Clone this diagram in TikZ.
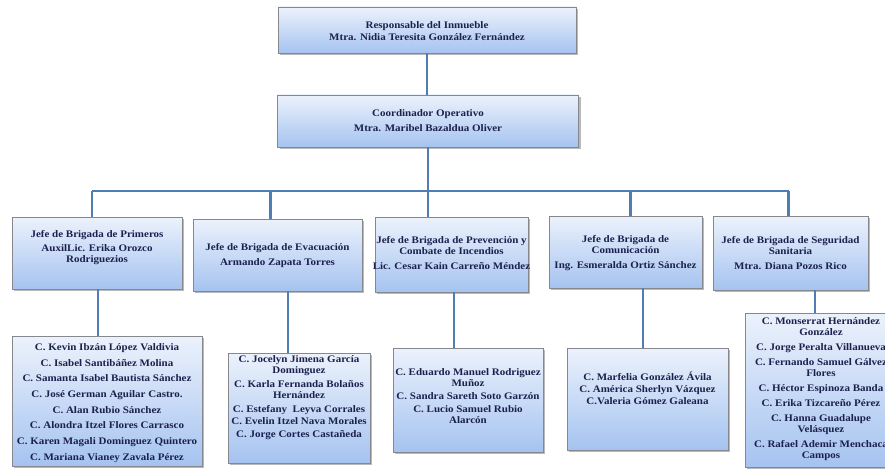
\documentclass[tikz,border=0pt]{standalone}
\usepackage{fontspec}
\setmainfont{Liberation Serif}[FakeStretch=1.1]
\usetikzlibrary{shadows}
\definecolor{txt}{RGB}{28,32,78}
\definecolor{lin}{RGB}{80,125,180}
\definecolor{boxtop}{RGB}{236,242,252}
\definecolor{boxbot}{RGB}{165,195,240}
\definecolor{edge}{RGB}{135,135,140}
\begin{document}
\begin{tikzpicture}[x=1pt,y=-1pt,
  box/.style={draw=edge, line width=0.8pt, top color=boxtop, bottom color=boxbot,
    inner sep=0pt, drop shadow={shadow xshift=2pt,shadow yshift=-2pt,fill=black!50,opacity=0.55}},
  lbl/.style={text=txt, font=\fontsize{10}{11}\selectfont\bfseries, align=center, inner sep=0pt},
  conn/.style={draw=lin, line width=2.2pt}]
\useasboundingbox (0,0) rectangle (885,468);
\clip (0,0) rectangle (885,468);

% boxes
\node[box, minimum width=298pt, minimum height=46pt] (A) at (427,30) {};
\node[box, minimum width=301pt, minimum height=52pt] (B) at (428,121) {};
\node[box, minimum width=170pt, minimum height=72pt] (J1) at (97,253) {};
\node[box, minimum width=169pt, minimum height=72pt] (J2) at (277.5,255) {};
\node[box, minimum width=153pt, minimum height=75pt] (J3) at (451.5,254.5) {};
\node[box, minimum width=153pt, minimum height=72pt] (J4) at (625.5,252) {};
\node[box, minimum width=155pt, minimum height=74pt] (J5) at (790.5,253) {};
\node[box, minimum width=190pt, minimum height=130pt] (L1) at (107,401) {};
\node[box, minimum width=142pt, minimum height=110pt] (L2) at (299,408) {};
\node[box, minimum width=150pt, minimum height=104pt] (L3) at (468,400) {};
\node[box, minimum width=161pt, minimum height=102pt] (L4) at (647.5,399) {};
\node[box, minimum width=152pt, minimum height=154pt] (L5) at (821,390) {};

% connectors
\coordinate (bus) at (0,191);
\draw[conn] (A.south) -- (A.south |- B.north);
\draw[conn] (B.south) -- (B.south |- J3.north);
\draw[conn] ([xshift=-5pt]J1.north |- bus) -- ([xshift=-2pt]J5.north |- bus);
\draw[conn] ([xshift=-5pt]J1.north |- bus) -- ([xshift=-5pt]J1.north);
\draw[conn] ([xshift=-7pt]J2.north |- bus) -- ([xshift=-7pt]J2.north);
\draw[conn] ([xshift=5pt]J4.north |- bus) -- ([xshift=5pt]J4.north);
\draw[conn] ([xshift=-2pt]J5.north |- bus) -- ([xshift=-2pt]J5.north);
\draw[conn] ([xshift=1pt]J1.south) -- ([xshift=1pt]J1.south |- L1.north);
\draw[conn] ([xshift=10.5pt]J2.south) -- ([xshift=10.5pt]J2.south |- L2.north);
\draw[conn] ([xshift=2.5pt]J3.south) -- ([xshift=2.5pt]J3.south |- L3.north);
\draw[conn] ([xshift=17.5pt]J4.south) -- ([xshift=17.5pt]J4.south |- L4.north);
\draw[conn] ([xshift=24.5pt]J5.south) -- ([xshift=24.5pt]J5.south |- L5.north);

% texts
\node[lbl] (At) at (427,31.5) {Responsable del Inmueble\\[1pt]Mtra. Nidia Teresita González Fernández};
\node[lbl] (Bt) at (428,121) {Coordinador Operativo\\[4pt]Mtra. Maribel Bazaldua Oliver};
\node[lbl] (J1t) at (97,248) {Jefe de Brigada de Primeros\\[3pt]AuxilLic. Erika Orozco\\Rodriguezios};
\node[lbl] (J2t) at (277.5,255.5) {Jefe de Brigada de Evacuación\\[4pt]Armando Zapata Torres};
\node[lbl] (J3t) at (451.5,253.5) {Jefe de Brigada de Prevención y\\Combate de Incendios\\[4pt]Lic. Cesar Kain Carreño Méndez};
\node[lbl] (J4t) at (625.5,253.5) {Jefe de Brigada de\\Comunicación\\[4pt]Ing. Esmeralda Ortiz Sánchez};
\node[lbl] (J5t) at (790.5,253.5) {Jefe de Brigada de Seguridad\\Sanitaria\\[4pt]Mtra. Diana Pozos Rico};
\node[lbl] (L1t) at (107,403) {C. Kevin Ibzán López Valdivia\\[4.7pt]C. Isabel Santibáñez Molina\\[4.7pt]C. Samanta Isabel Bautista Sánchez\\[4.7pt]C. José German Aguilar Castro.\\[4.7pt]C. Alan Rubio Sánchez\\[4.7pt]C. Alondra Itzel Flores Carrasco\\[4.7pt]C. Karen Magali Dominguez Quintero\\[4.7pt]C. Mariana Vianey Zavala Pérez};
\node[lbl] (L2t) at (299,397.5) {C. Jocelyn Jimena García\\Dominguez\\[3pt]C. Karla Fernanda Bolaños\\Hernández\\[3pt]C. Estefany\ \ Leyva Corrales\\[1pt]C. Evelin Itzel Nava Morales\\[2pt]C. Jorge Cortes Castañeda};
\node[lbl] (L3t) at (468,396) {C. Eduardo Manuel Rodriguez\\Muñoz\\[2pt]C. Sandra Sareth Soto Garzón\\[2pt]C. Lucio Samuel Rubio\\Alarcón};
\node[lbl] (L4t) at (647.5,388.5) {C. Marfelia González Ávila\\[1pt]C. América Sherlyn Vázquez\\[1pt]C.Valeria Gómez Galeana};
\node[lbl] (L5t) at (821,389.5) {C. Monserrat Hernández\\González\\[4pt]C. Jorge Peralta Villanueva\\[4pt]C. Fernando Samuel Gálvez\\Flores\\[4pt]C. Héctor Espinoza Banda\\[4pt]C. Erika Tizcareño Pérez\\[4pt]C. Hanna Guadalupe\\Velásquez\\[4pt]C. Rafael Ademir Menchaca\\Campos};
\end{tikzpicture}
\end{document}
